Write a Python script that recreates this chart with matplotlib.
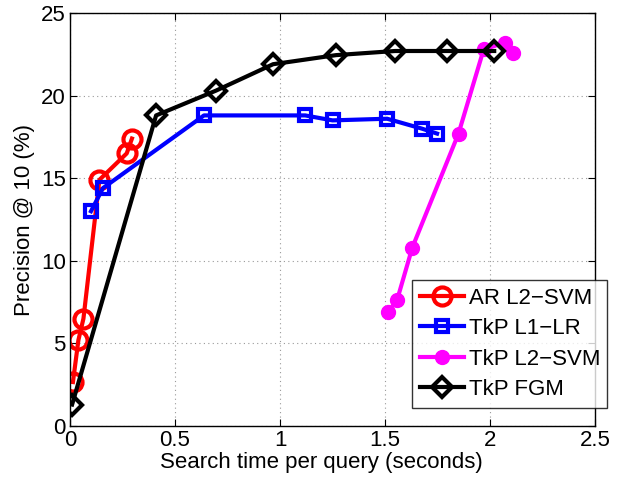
import numpy as np
import matplotlib
matplotlib.use('Agg')
import matplotlib.pyplot as plt

plt.rcParams['font.family'] = ['Liberation Sans', 'DejaVu Sans']

# AR L2-SVM
ar_x = [0.014, 0.04, 0.064, 0.14, 0.27, 0.295]
ar_y = [2.66, 5.2, 6.5, 14.9, 16.5, 17.4]
# TkP L1-LR
l1_x = [0.10, 0.157, 0.638, 1.12, 1.25, 1.51, 1.676, 1.748]
l1_y = [13.0, 14.4, 18.8, 18.8, 18.5, 18.6, 18.0, 17.7]
# TkP L2-SVM
l2_x = [1.514, 1.557, 1.63, 1.85, 1.97, 2.07, 2.11]
l2_y = [6.9, 7.6, 10.8, 17.7, 22.8, 23.2, 22.6]
# TkP FGM
fgm_x = [0.01, 0.41, 0.695, 0.967, 1.267, 1.548, 1.795, 2.02]
fgm_y = [1.3, 18.8, 20.3, 21.9, 22.45, 22.7, 22.7, 22.7]

labels = ['AR L2\u2212SVM', 'TkP L1\u2212LR', 'TkP L2\u2212SVM', 'TkP FGM']

fig = plt.figure(figsize=(6.19, 4.78), dpi=100)
ax = fig.add_axes([70 / 619, 1 - 426 / 478, 525 / 619, 413 / 478])

lw = 3
h1, = ax.plot(ar_x, ar_y, color='red', lw=lw, marker='o', ms=13,
              mfc='none', mec='red', mew=3)
h2, = ax.plot(l1_x, l1_y, color='blue', lw=lw, marker='s', ms=9,
              mfc='none', mec='blue', mew=3)
h3, = ax.plot(l2_x, l2_y, color='magenta', lw=lw, marker='o', ms=10,
              mfc='magenta', mec='magenta')
h4, = ax.plot(fgm_x, fgm_y, color='black', lw=lw, marker='D', ms=10,
              mfc='none', mec='black', mew=3)

ax.set_xlim(0, 2.5)
ax.set_ylim(0, 25)
ax.set_xticks([0, 0.5, 1, 1.5, 2, 2.5])
ax.set_xticklabels(['0', '0.5', '1', '1.5', '2', '2.5'])
ax.set_yticks([0, 5, 10, 15, 20, 25])
ax.grid(True, linestyle=(0, (1, 3)), color='#999999', linewidth=0.8)
ax.tick_params(direction='in', top=True, right=True, labelsize=16, length=5, pad=3)
for s in ax.spines.values():
    s.set_linewidth(1)

ax.set_xlabel('Search time per query (seconds)', fontsize=16, labelpad=-1)
ax.xaxis.set_label_coords(0.478, -0.062)
ax.set_ylabel('Precision @ 10 (%)', fontsize=16, labelpad=4)

leg = fig.legend([h1, h2, h3, h4], labels, loc='lower left',
                 bbox_to_anchor=(412 / 619, 1 - 408 / 478, 195 / 619, 126 / 478),
                 mode='expand', fontsize=16, frameon=True, fancybox=False,
                 handlelength=2.0, handletextpad=0.2, borderaxespad=0,
                 borderpad=0.35, labelspacing=0.43)
leg.get_frame().set_edgecolor('black')
leg.get_frame().set_linewidth(1)

fig.savefig('out.png', dpi=100)
